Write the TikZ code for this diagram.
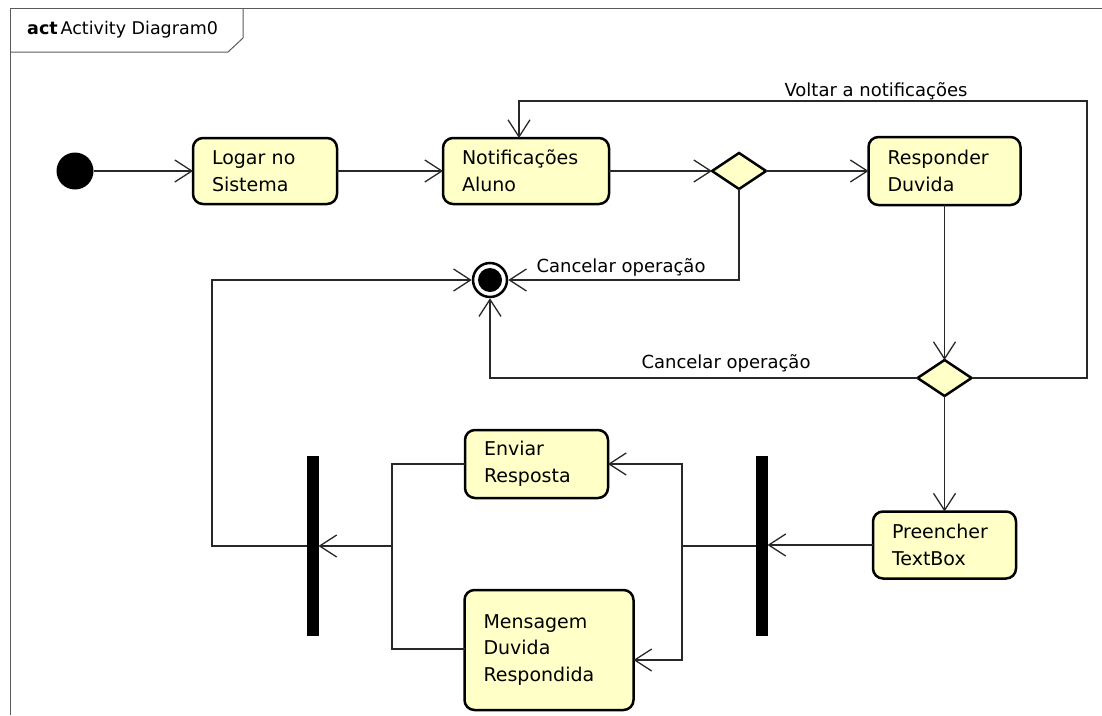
\documentclass[tikz,border=0pt]{standalone}
\usepackage{fontspec}
\setmainfont{DejaVu Sans}
\usetikzlibrary{arrows.meta,shapes.geometric}
\definecolor{actfill}{RGB}{255,255,200}
\definecolor{wire}{RGB}{40,40,40}
\definecolor{framec}{RGB}{90,90,90}
\tikzset{
  act/.style={draw=black, line width=2.5pt, rounded corners=10pt, fill=actfill,
    align=left, inner xsep=19pt, inner ysep=0pt, outer sep=0pt,
    font=\fontsize{19}{26.5}\selectfont},
  decision/.style={diamond, draw=black, line width=2.5pt, fill=actfill,
    minimum width=54pt, minimum height=36pt, inner sep=0pt, outer sep=0pt},
  barnode/.style={fill=black, minimum width=12pt, minimum height=180pt, inner sep=0pt, outer sep=0pt},
  flow/.style={draw=wire, line width=1.3pt},
  arr/.style={flow, -{Straight Barb[length=17pt,width=22pt]}},
  elabel/.style={font=\fontsize{18}{22}\selectfont, inner sep=0pt},
}
\begin{document}
\begin{tikzpicture}[x=1pt,y=-1pt]
\useasboundingbox (0,0) rectangle (1102,715);

% diagram frame and its title tab
\draw[framec, line width=1pt] (10,715) -- (10,8) -- (1102,8);
\draw[framec, line width=1pt] (10,52) -- (228,52) -- (243,38) -- (243,8);
\node[anchor=west, inner sep=0pt, font=\fontsize{17.5}{20}\selectfont] (title) at (27,30)
  {\textbf{act}\,Activity Diagram0};

% initial and final nodes
\node[circle, fill=black, minimum size=37pt, inner sep=0pt, outer sep=0pt] (init) at (75,171) {};
\node[circle, draw=black, line width=2.5pt, fill=white, minimum size=34pt, inner sep=0pt, outer sep=1.25pt] (final) at (490,280) {};
\fill (final.center) circle (12);

% actions
\node[act, minimum width=144pt, text width=106pt, minimum height=66pt] (logar) at (265,171) {Logar no\\Sistema};
\node[act, minimum width=166pt, text width=128pt, minimum height=66pt] (notif) at (526,171) {Notificações\\Aluno};
\node[act, minimum width=152pt, text width=114pt, minimum height=68pt] (resp) at (944.5,171) {Responder\\Duvida};
\node[act, minimum width=143pt, text width=105pt, minimum height=67pt] (prep) at (944.5,545) {Preencher\\TextBox};
\node[act, minimum width=143pt, text width=105pt, minimum height=68pt] (env) at (536.5,464) {Enviar\\Resposta};
\node[act, minimum width=169pt, text width=131pt, minimum height=120pt] (msg) at (549,650) {Mensagem\\Duvida\\Respondida};

% decisions
\node[decision] (d1) at (739,171) {};
\node[decision] (d2) at (944.5,378) {};

% fork and join bars
\node[barnode] (bar1) at (761.5,546) {};
\node[barnode] (bar2) at (312.5,546) {};

% helper points of the routed flows
\coordinate (loopTR) at (1087,101);
\coordinate (fk) at (682,546);
\coordinate (jn) at (392,546);
\coordinate (jl) at (212,546);

% flows
\draw[arr] (init) -- (logar);
\draw[arr] (logar) -- (notif);
\draw[arr] (notif) -- (d1.west);
\draw[arr] (d1.east) -- (resp);
\draw[arr] (resp.south) -- (d2.north);
\draw[arr] (d2.south) -- (prep.north);
\draw[arr] (d2.east) -| (loopTR) -| ([xshift=-7pt]notif.north);
\draw[arr] (d1.south) |- (final.east);
\draw[arr] (d2.west) -| (final.south);
\draw[arr] (prep.west) -- (prep.west -| bar1.east);
\draw[flow] (bar1.west |- fk) -- (fk);
\draw[arr] (fk) |- (env.east);
\draw[arr] (fk) |- ([yshift=-10pt]msg.east);
\draw[flow] (env.west) -| (jn);
\draw[flow] ([yshift=1pt]msg.west) -| (jn);
\draw[arr] (jn) -- (jn -| bar2.east);
\draw[arr] (bar2.west |- jl) -- (jl) |- (final.west);

% flow labels
\node[elabel] (lvoltar) at (876,91) {Voltar a notificações};
\node[elabel] (lcanc1) at (621,267) {Cancelar operação};
\node[elabel] (lcanc2) at (726,363) {Cancelar operação};
\end{tikzpicture}
\end{document}
